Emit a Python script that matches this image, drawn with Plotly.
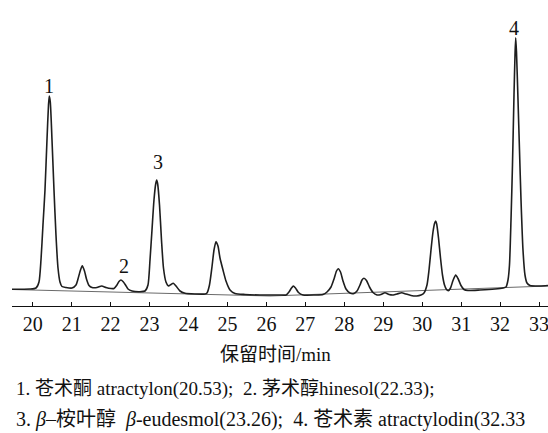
import plotly.graph_objects as go

# Retention time (min) and detector signal (arbitrary units)
time_min = [
    19.469, 19.931, 20.085, 20.162, 20.213, 20.264, 20.316, 20.367, 20.406, 20.426,
    20.452, 20.496, 20.547, 20.598, 20.650, 20.701, 20.752, 20.855, 21.009, 21.112,
    21.163, 21.227, 21.274, 21.330, 21.381, 21.446, 21.523, 21.651, 21.772, 21.882,
    22.010, 22.087, 22.164, 22.216, 22.267, 22.318, 22.383, 22.447, 22.550, 22.755,
    22.883, 22.960, 23.012, 23.063, 23.114, 23.158, 23.184, 23.209, 23.256, 23.307,
    23.358, 23.422, 23.487, 23.551, 23.610, 23.679, 23.782, 23.910, 24.167, 24.424,
    24.475, 24.539, 24.603, 24.655, 24.706, 24.757, 24.809, 24.886, 24.963, 25.066,
    25.194, 25.451, 25.836, 26.349, 26.503, 26.580, 26.645, 26.691, 26.747, 26.824,
    26.940, 27.248, 27.453, 27.556, 27.659, 27.736, 27.800, 27.846, 27.903, 27.967,
    28.044, 28.146, 28.249, 28.326, 28.403, 28.455, 28.506, 28.570, 28.647, 28.737,
    28.840, 28.942, 29.045, 29.148, 29.258, 29.353, 29.474, 29.584, 29.713, 29.859,
    29.969, 30.046, 30.123, 30.175, 30.226, 30.277, 30.321, 30.347, 30.372, 30.419,
    30.470, 30.521, 30.573, 30.624, 30.670, 30.727, 30.791, 30.860, 30.919, 30.996,
    31.073, 31.176, 31.484, 31.869, 32.075, 32.152, 32.203, 32.241, 32.280, 32.318,
    32.357, 32.383, 32.401, 32.421, 32.460, 32.498, 32.537, 32.588, 32.639, 32.691,
    32.768, 33.025, 33.230,
]
signal = [
    16.7, 17.0, 18.0, 24.0, 46.0, 81.0, 116.0, 166.0, 201.0, 210.0,
    204.0, 166.0, 116.0, 71.0, 38.0, 24.0, 19.5, 18.5, 18.0, 21.0,
    27.0, 36.0, 40.3, 35.0, 27.0, 20.5, 18.5, 18.5, 20.0, 18.5,
    17.5, 17.5, 21.0, 24.5, 26.0, 24.5, 21.0, 17.0, 15.0, 14.3,
    15.0, 21.0, 46.0, 76.0, 106.0, 122.0, 126.0, 122.0, 101.0, 66.0,
    38.0, 24.0, 20.0, 21.5, 22.7, 20.0, 15.0, 12.7, 12.0, 12.0,
    13.0, 21.0, 39.0, 56.0, 64.3, 60.0, 48.0, 36.0, 25.0, 16.0,
    12.5, 11.5, 11.0, 11.0, 11.0, 14.0, 18.0, 20.0, 18.0, 13.5,
    11.0, 11.0, 11.5, 14.0, 19.0, 27.0, 35.0, 37.3, 34.0, 25.0,
    17.0, 13.0, 12.5, 15.0, 21.0, 26.0, 27.7, 25.5, 19.0, 13.5,
    11.0, 11.5, 13.3, 11.5, 11.0, 12.0, 13.3, 12.0, 10.5, 10.0,
    11.0, 13.0, 21.0, 36.0, 56.0, 74.0, 83.0, 85.0, 82.0, 68.0,
    48.0, 31.0, 21.0, 16.5, 15.3, 18.0, 25.5, 31.0, 27.5, 20.5,
    16.5, 15.5, 16.0, 17.0, 18.0, 19.0, 26.0, 41.0, 86.0, 141.0,
    211.0, 251.0, 268.3, 254.0, 206.0, 156.0, 106.0, 56.0, 31.0, 23.0,
    20.5, 20.0, 20.5,
]

# Drawn baseline (gray straight segments)
baseline_time = [19.469, 23.962, 26.092, 33.230]
baseline_signal = [16.5, 12.0, 10.0, 20.0]

# Peak numbering labels
peak_labels = ["1", "2", "3", "4"]
peak_label_time = [20.418, 22.344, 23.217, 32.357]
peak_label_signal = [220, 40, 144, 278]

tick_values = list(range(20, 34))
x_title = "保留时间/min"
NB = "\u00a0"
legend_line1 = "1. 苍术酮 atractylon(20.53);" + NB + " 2. 茅术醇hinesol(22.33);"
legend_line2 = ("3. <i>β</i>–桉叶醇" + NB + " <i>β</i>-eudesmol(23.26);" + NB
                + " 4. 苍术素 atractylodin(32.33")

SERIF = "Liberation Serif, Times New Roman, Noto Sans CJK SC, serif"

FIG_W, FIG_H = 548, 433
PLOT_L, PLOT_R, PLOT_T, PLOT_B = 12, 548, 0, 306   # page pixels of plot area


def px_x(x):
    return (x - PLOT_L) / (PLOT_R - PLOT_L)


def px_y(y):
    return (PLOT_B - y) / (PLOT_B - PLOT_T)


fig = go.Figure()
fig.add_trace(go.Scatter(
    x=baseline_time, y=baseline_signal, mode="lines",
    line=dict(color="#6a6a6a", width=1), hoverinfo="skip", showlegend=False,
))
fig.add_trace(go.Scatter(
    x=time_min, y=signal, mode="lines",
    line=dict(color="#1e1e1e", width=1.6, shape="spline", smoothing=0.6),
    showlegend=False,
))

for lab, t, v in zip(peak_labels, peak_label_time, peak_label_signal):
    fig.add_annotation(x=t, y=v, xref="x", yref="y", text=lab, showarrow=False,
                       xanchor="center", yanchor="middle",
                       font=dict(family=SERIF, size=20, color="#111"))

fig.add_annotation(x=px_x(275), y=px_y(355), xref="paper", yref="paper", text=x_title,
                   showarrow=False, xanchor="center", yanchor="middle",
                   font=dict(family=SERIF, size=19, color="#111"))
fig.add_annotation(x=px_x(14), y=px_y(389), xref="paper", yref="paper", text=legend_line1,
                   showarrow=False, xanchor="left", yanchor="middle",
                   font=dict(family=SERIF, size=19, color="#111"))
fig.add_annotation(x=px_x(14), y=px_y(419), xref="paper", yref="paper", text=legend_line2,
                   showarrow=False, xanchor="left", yanchor="middle",
                   font=dict(family=SERIF, size=20, color="#111"))

fig.update_layout(
    width=FIG_W, height=FIG_H,
    margin=dict(l=PLOT_L, r=FIG_W - PLOT_R, t=PLOT_T, b=FIG_H - PLOT_B, pad=0),
    paper_bgcolor="white", plot_bgcolor="white",
    xaxis=dict(
        range=[19.469, 33.23], tickvals=tick_values, ticktext=[str(v) for v in tick_values],
        ticks="inside", ticklen=4, tickwidth=1, tickcolor="#111",
        showline=True, linecolor="#111", linewidth=1,
        showgrid=False, zeroline=False, ticklabeloverflow="allow",
        tickfont=dict(family=SERIF, size=20, color="#111"),
    ),
    yaxis=dict(range=[0, PLOT_B - PLOT_T], visible=False, showgrid=False, zeroline=False),
)

fig.write_html(
    "out.html",
    config={"displayModeBar": False},
    post_script="document.body.style.margin='0';document.body.style.overflow='hidden';",
)
